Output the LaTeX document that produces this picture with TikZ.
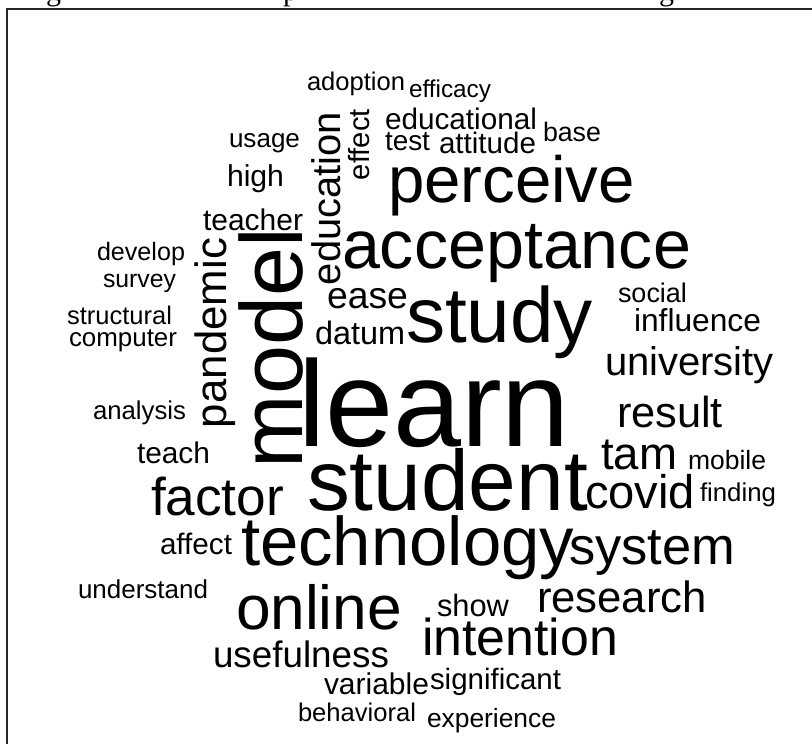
\documentclass[tikz,border=0pt]{standalone}
\usepackage{fontspec}
\setmainfont{Liberation Sans}
\newfontfamily\capfont{Liberation Serif}
\tikzset{
  wrd/.style={anchor=base west, inner sep=0pt, outer sep=0pt, text=black, font=\fontsize{20}{24}\selectfont},
  wrdv/.style={wrd, rotate=90},
  capfrag/.style={anchor=base west, inner sep=0pt, font=\capfont\fontsize{30}{34}\selectfont},
  frame/.style={draw=black!85, line width=1.3pt}
}
% horizontal word: name, left x, baseline y, width, text
\newcommand\wrdh[5]{\node[wrd] (#1) at (#2pt,-#3pt) {\resizebox{#4pt}{!}{#5}};}
% vertical word: name, baseline x, bottom y, length, text
\newcommand\wrdv[5]{\node[wrdv] (#1) at (#2pt,-#3pt) {\resizebox{#4pt}{!}{#5}};}
\begin{document}
\begin{tikzpicture}
\useasboundingbox (0,0) rectangle (812pt,-744pt);
\fill[white] (0,0) rectangle (812pt,-744pt);
% fragments of the caption line above
\begin{scope}
\clip (0,0) rectangle (812pt,-8pt);
\node[capfrag] (cg1) at (46pt,-1pt) {g};
\node[capfrag] (cp) at (283pt,-1pt) {p};
\node[capfrag] (cg2) at (659pt,-1pt) {g};
\end{scope}
\draw[frame] (812pt,-9pt) -- (7pt,-9pt) -- (7pt,-744pt);
% words
\wrdh{adoption}{307}{90}{98}{adoption}
\wrdh{efficacy}{409}{97}{82}{efficacy}
\wrdh{educational}{385}{129}{152}{educational}
\wrdh{test}{385}{150}{45}{test}
\wrdh{attitude}{439}{153}{97}{attitude}
\wrdh{base}{543}{141}{58}{base}
\wrdh{usage}{229}{147}{71}{usage}
\wrdh{high}{227}{186}{57}{high}
\wrdh{teacher}{203}{230}{100}{teacher}
\wrdh{perceive}{388}{202}{247}{perceive}
\wrdh{acceptance}{342}{268}{349}{acceptance}
\wrdh{develop}{97}{260}{88}{develop}
\wrdh{survey}{103}{287}{73}{survey}
\wrdh{structural}{67}{324}{105}{structural}
\wrdh{computer}{69}{346}{108}{computer}
\wrdh{ease}{327}{308}{81}{ease}
\wrdh{datum}{315}{344}{90}{datum}
\wrdh{study}{406}{342}{187}{study}
\wrdh{social}{618}{302}{69}{social}
\wrdh{influence}{634}{331}{127}{influence}
\wrdh{university}{605}{375}{169}{university}
\wrdh{learn}{298}{446}{272}{learn}
\wrdh{analysis}{93}{419}{93}{analysis}
\wrdh{result}{617}{427}{106}{result}
\wrdh{teach}{137}{463}{73}{teach}
\wrdh{tam}{601}{469}{76}{tam}
\wrdh{mobile}{688}{469}{78}{mobile}
\wrdh{student}{307}{510}{281}{student}
\wrdh{factor}{151}{515}{133}{factor}
\wrdh{covid}{585}{508}{110}{covid}
\wrdh{finding}{700}{501}{76}{finding}
\wrdh{affect}{160}{554}{72}{affect}
\wrdh{technology}{241}{565}{333}{technology}
\wrdh{system}{569}{564}{166}{system}
\wrdh{understand}{78}{598}{130}{understand}
\wrdh{online}{236}{629}{166}{online}
\wrdh{show}{437}{616}{72}{show}
\wrdh{research}{537}{612}{170}{research}
\wrdh{intention}{422}{655}{196}{intention}
\wrdh{usefulness}{213}{667}{176}{usefulness}
\wrdh{variable}{324}{694}{105}{variable}
\wrdh{significant}{430}{689}{131}{significant}
\wrdh{behavioral}{298}{721}{118}{behavioral}
\wrdh{experience}{427}{727}{129}{experience}
% vertical words
\wrdv{education}{340}{285}{173}{education}
\wrdv{effect}{369}{180}{71}{effect}
\wrdv{pandemic}{226}{428}{190}{pandemic}
\wrdv{model}{302}{468}{240}{model}
\end{tikzpicture}
\end{document}
